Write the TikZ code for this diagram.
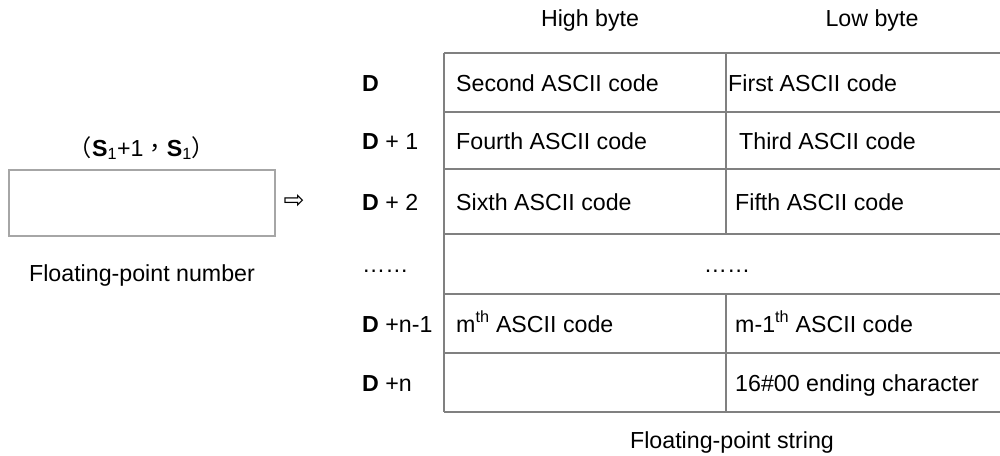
\documentclass[tikz,border=0pt]{standalone}
\usepackage{fontspec}
\setmainfont{Liberation Sans}
\newfontfamily\cjk{Noto Sans CJK TC}
\newfontfamily\dejavu{DejaVu Sans}
\definecolor{tablegray}{HTML}{808080}
\definecolor{boxgray}{HTML}{A6A6A6}
\begin{document}
\begin{tikzpicture}[x=1pt,y=-1pt,
  txt/.style={inner sep=0pt, font=\fontsize{23.2}{28}\selectfont},
  cellw/.style={txt, anchor=base west},
  cellc/.style={txt, anchor=base},
  gridline/.style={draw=tablegray, line width=2pt},
  srcbox/.style={draw=boxgray, line width=2.5pt, minimum width=266pt, minimum height=66pt, inner sep=0pt}]
\useasboundingbox (0,0) rectangle (1000,455);
% headers
\node[cellc] (hi) at (590,26) {High byte};
\node[cellc] (lo) at (872,26) {Low byte};
% table lines
\draw[gridline] (444,53) -- (1000,53);
\draw[gridline] (444,112) -- (1000,112);
\draw[gridline] (444,169) -- (1000,169);
\draw[gridline] (444,234) -- (1000,234);
\draw[gridline] (444,294) -- (1000,294);
\draw[gridline] (444,353) -- (1000,353);
\draw[gridline] (444,412) -- (1000,412);
\draw[gridline] (444,53) -- (444,412);
\draw[gridline] (726,53) -- (726,234);
\draw[gridline] (726,294) -- (726,412);
% row labels
\node[cellw] (d0) at (362,91) {\textbf{D}};
\node[cellw] (d1) at (362,149) {\textbf{D} + 1};
\node[cellw] (d2) at (362,210) {\textbf{D} + 2};
\node[cellw] (dd) at (362,272) {……};
\node[cellw] (dm) at (362,332) {\textbf{D} +n-1};
\node[cellw] (dn) at (362,391) {\textbf{D} +n};
% cells
\node[cellw] (h0) at (456,91) {Second ASCII code};
\node[cellw] (l0) at (728,91) {First ASCII code};
\node[cellw] (h1) at (456,149) {Fourth ASCII code};
\node[cellw] (l1) at (739,149) {Third ASCII code};
\node[cellw] (h2) at (456,210) {Sixth ASCII code};
\node[cellw] (l2) at (735,210) {Fifth ASCII code};
\node[cellc] (mid) at (727,272) {……};
\node[cellw] (h4) at (456,332) {m\textsuperscript{th} ASCII code};
\node[cellw] (l4) at (735,332) {m-1\textsuperscript{th} ASCII code};
\node[cellw] (l5) at (735,391) {16\#00 ending character};
\node[cellc] (str) at (732,448) {Floating-point string};
% source
\node[cellc] (src) at (142,156) {{\cjk （}\textbf{S}\textsubscript{1}+1{\cjk ，}\textbf{S}\textsubscript{1}{\cjk ）}};
\node[srcbox] (box) at (142,203) {};
\node[cellc] (num) at (142,281) {Floating-point number};
\node[inner sep=0pt, font=\dejavu\fontsize{25}{30}\selectfont] (arr) at (294,201) {⇨};
\end{tikzpicture}
\end{document}
